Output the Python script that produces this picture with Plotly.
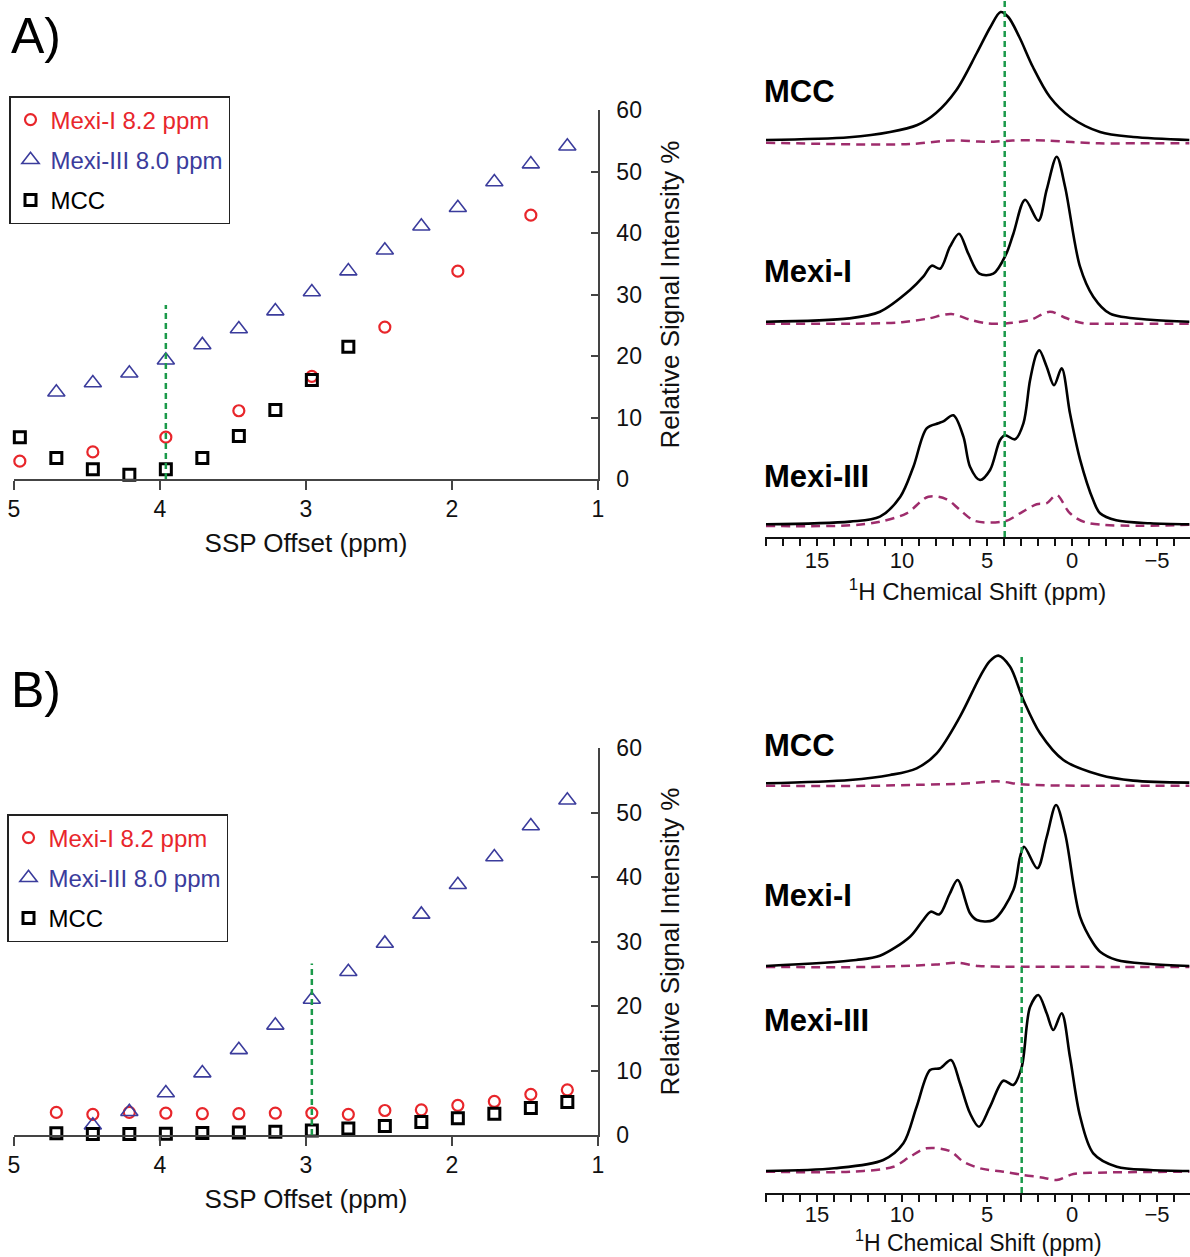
import plotly.graph_objects as go

W, H = 1190, 1257
FONT = "Liberation Sans, Arial, Helvetica, sans-serif"
RED = "#e8262b"
BLUE = "#3b3c9c"
BLACK = "#000000"
GREEN = "#1b9a4a"
PURPLE = "#9e2c6c"

# ---------------- data: SSP offset scans ----------------
A_mexi1_x = [4.96, 4.46, 3.96, 3.46, 2.96, 2.46, 1.96, 1.46]
A_mexi1_y = [2.9, 4.4, 6.8, 11.1, 16.7, 24.7, 33.8, 42.9]
A_mexi3_x = [4.71, 4.46, 4.21, 3.96, 3.71, 3.46, 3.21, 2.96, 2.71, 2.46, 2.21, 1.96, 1.71, 1.46, 1.21]
A_mexi3_y = [14.1, 15.6, 17.2, 19.3, 21.8, 24.4, 27.3, 30.4, 33.8, 37.2, 41.1, 44.1, 48.3, 51.2, 54.1]
A_mcc_x = [4.96, 4.71, 4.46, 4.21, 3.96, 3.71, 3.46, 3.21, 2.96, 2.71]
A_mcc_y = [6.8, 3.4, 1.6, 0.7, 1.6, 3.4, 7.0, 11.2, 16.1, 21.5]
A_ssp = 3.96
A_ssp_top = 28.3

B_mexi1_x = [4.71, 4.46, 4.21, 3.96, 3.71, 3.46, 3.21, 2.96, 2.71, 2.46, 2.21, 1.96, 1.71, 1.46, 1.21]
B_mexi1_y = [3.5, 3.2, 3.5, 3.4, 3.3, 3.3, 3.4, 3.4, 3.2, 3.8, 3.9, 4.6, 5.2, 6.3, 7.0]
B_mexi3_x = [4.46, 4.21, 3.96, 3.71, 3.46, 3.21, 2.96, 2.71, 2.46, 2.21, 1.96, 1.71, 1.46, 1.21]
B_mexi3_y = [1.5, 3.6, 6.5, 9.6, 13.2, 17.0, 21.0, 25.3, 29.7, 34.2, 38.8, 43.1, 47.9, 51.9]
B_mcc_x = [4.71, 4.46, 4.21, 3.96, 3.71, 3.46, 3.21, 2.96, 2.71, 2.46, 2.21, 1.96, 1.71, 1.46, 1.21]
B_mcc_y = [0.26, 0.15, 0.15, 0.2, 0.3, 0.4, 0.5, 0.7, 1.0, 1.4, 2.0, 2.6, 3.3, 4.2, 5.1]
B_ssp = 2.96
B_ssp_top = 26.6

# ---------------- data: 1H spectra (intensity, arbitrary units) ----------------
A_mcc_ppm = [18, 13.1, 10.7, 9.1, 8.0, 6.8, 5.6, 4.8, 4.2, 3.75, 3.1, 2.3, 1.3, 0.1, -1.65, -3.6, -6.9]
A_mcc_int = [0, 2.7, 8, 15, 27, 50, 87, 113, 128, 123, 103, 73, 43, 23, 8, 3, 0]
A_mcc_diff_ppm = [18, 12, 9.5, 7.1, 5.5, 4.6, 3.5, 1.5, 0, -1.6, -4, -6.9]
A_mcc_diff_int = [-2.7, -4.5, -4, -0.5, -1.5, -1.7, -0.5, -0.5, -2, -3.3, -3.3, -3.3]

A_mexi1_ppm = [18, 13.1, 11.3, 9.53, 8.75, 8.25, 7.76, 7.18, 6.65, 6.1, 5.45, 4.63, 3.9, 3.45, 2.76, 1.98, 1.49, 0.9, 0.41, -0.47, -1.25, -2.24, -4.6, -6.9]
A_mexi1_int = [0, 3.3, 10, 31.7, 45, 56, 53, 75, 88, 68, 48, 48, 66.7, 88, 122, 101, 132, 165, 135, 55, 25, 8, 2, 0]
A_mexi1_diff_ppm = [18, 13, 10, 8.5, 7.1, 6.0, 5.0, 3.9, 2.47, 1.3, 0.31, -0.6, -3, -6.9]
A_mexi1_diff_int = [-2, -2, -0.5, 3, 7.7, 2, -1.7, -1.7, 1.7, 10, 3.4, -1.3, -2, -2]

A_mexi3_ppm = [18, 13.06, 11.3, 10.1, 9.33, 8.55, 7.86, 7.57, 6.98, 6.39, 6.0, 5.41, 4.82, 4.24, 3.94, 3.35, 2.86, 2.47, 2.1, 1.92, 1.49, 1.06, 0.61, 0.12, -0.47, -1.25, -1.65, -2.6, -4.6, -6.9]
A_mexi3_int = [0, 2.7, 7.6, 27.6, 57.6, 96, 101, 103, 109, 87.6, 57.6, 44.3, 54.3, 84, 89, 85, 101, 144, 170, 174, 157.6, 139, 156, 111, 65, 24, 11, 4, 1, 0]
A_mexi3_diff_ppm = [18, 13, 11.3, 9.73, 8.45, 7.37, 6.59, 5.7, 3.9, 3.06, 2.08, 1.5, 0.9, 0.12, -0.86, -6.9]
A_mexi3_diff_int = [-1.7, -1, 2.6, 11, 27.6, 25, 14.3, 3.3, 3.3, 11, 20, 21, 29.3, 11, 1.6, -0.5]

B_mcc_ppm = [18, 13.06, 10.7, 9.14, 7.96, 6.59, 5.41, 4.85, 4.33, 3.65, 2.86, 1.88, 0.51, -1.65, -3.6, -6.9]
B_mcc_int = [0, 3.3, 8.3, 15, 30, 66.7, 106.7, 122, 127.7, 116.7, 83.3, 50, 23.3, 8.3, 2.7, 0.7]
B_mcc_diff_ppm = [18, 12, 9, 6, 4.4, 3, 1.5, -2, -6.9]
B_mcc_diff_int = [-2.5, -2.5, -1.5, 0, 2, -1, -2, -2.5, -2.5]

B_mexi1_ppm = [18, 12.7, 11.3, 9.53, 8.8, 8.31, 7.8, 7.2, 6.73, 6.0, 5.6, 4.63, 3.45, 3.06, 2.82, 2.04, 1.49, 0.94, 0.41, -0.47, -1.25, -1.65, -2.63, -4.6, -6.9]
B_mexi1_int = [0, 6, 10.3, 29.3, 45, 54.3, 51.7, 72, 86, 52.7, 46, 46, 76, 109, 119.3, 97.7, 129, 161, 132.7, 49.3, 22.7, 14.3, 6, 2, 0]
B_mexi1_diff_ppm = [18, 12, 10, 8, 6.8, 5.5, 4, 2.5, 1, 0, -3, -6.9]
B_mexi1_diff_int = [-1, -1, 0, 1.5, 3.3, 0, -0.7, -0.7, -0.7, -0.7, -1, -1]

B_mexi3_ppm = [18, 14.0, 11.1, 9.92, 9.14, 8.35, 7.76, 7.12, 6.59, 6.0, 5.47, 4.82, 4.04, 3.45, 2.96, 2.47, 1.98, 1.49, 1.1, 0.61, 0.12, -0.47, -1.25, -2.63, -4.6, -6.9]
B_mexi3_int = [0, 2.7, 11, 27.7, 64.3, 101, 102.7, 111, 87.7, 57.7, 44.3, 64.3, 90.3, 86, 104, 164, 176, 157.7, 141, 157.7, 114, 55, 17.7, 4.3, 1, 0]
B_mexi3_diff_ppm = [18, 13, 10.5, 9.53, 8.55, 7.18, 6.39, 5.41, 4.04, 2.86, 1.69, 0.9, -0.08, -1.5, -6.9]
B_mexi3_diff_int = [-0.7, -0.7, 4.3, 14.3, 22.7, 20, 9.3, 2.7, -0.7, -4, -6.7, -9, -3, -1.7, -0.7]

# ---------------- layout helpers ----------------
def fx(p):
    return p / W

def fy(p):
    return 1 - p / H

# stacking baselines (vertical offsets in display units, layout only)
A_base = {"mcc": 397, "mexi1": 215.3, "mexi3": 12.7}
A_height = 537
B_axis_px = 1193
B_base = {"mcc": 409.7, "mexi1": 227, "mexi3": 22}
B_height = 553

fig = go.Figure()

def scatter_traces(xa, ya, legend, m1x, m1y, m3x, m3y, mcx, mcy):
    fig.add_trace(go.Scatter(
        x=m1x, y=m1y, mode="markers", xaxis=xa, yaxis=ya, legend=legend,
        name='<span style="color:%s">Mexi-I 8.2 ppm</span>' % RED, legendgroup=legend + "a",
        marker=dict(symbol="circle-open", size=11, color=RED, line=dict(width=2.2, color=RED)),
        cliponaxis=False))
    fig.add_trace(go.Scatter(
        x=m3x, y=m3y, mode="markers", xaxis=xa, yaxis=ya, legend=legend,
        name='<span style="color:%s">Mexi-III 8.0 ppm</span>' % BLUE, legendgroup=legend + "b",
        marker=dict(symbol="triangle-up-open", size=15, color=BLUE, line=dict(width=1.6, color=BLUE)),
        cliponaxis=False))
    fig.add_trace(go.Scatter(
        x=mcx, y=mcy, mode="markers", xaxis=xa, yaxis=ya, legend=legend,
        name="MCC", legendgroup=legend + "c",
        marker=dict(symbol="square-open", size=11, color=BLACK, line=dict(width=3, color=BLACK)),
        cliponaxis=False))

scatter_traces("x", "y", "legend", A_mexi1_x, A_mexi1_y, A_mexi3_x, A_mexi3_y, A_mcc_x, A_mcc_y)
scatter_traces("x2", "y2", "legend2", B_mexi1_x, B_mexi1_y, B_mexi3_x, B_mexi3_y, B_mcc_x, B_mcc_y)

# SSP offset markers on scatter plots
fig.add_trace(go.Scatter(x=[A_ssp, A_ssp], y=[0, A_ssp_top], mode="lines", xaxis="x", yaxis="y",
                         line=dict(color=GREEN, width=2.5, dash="6px,4px"), showlegend=False, hoverinfo="skip"))
fig.add_trace(go.Scatter(x=[B_ssp, B_ssp], y=[0, B_ssp_top], mode="lines", xaxis="x2", yaxis="y2",
                         line=dict(color=GREEN, width=2.5, dash="6px,4px"), showlegend=False, hoverinfo="skip"))

# spectra
def spec(xa, ya, ppm, inten, base, dashed=False):
    fig.add_trace(go.Scatter(
        x=ppm, y=[v + base for v in inten], mode="lines", xaxis=xa, yaxis=ya,
        line=dict(color=PURPLE if dashed else BLACK, width=2.5 if dashed else 2.6,
                  dash="9px,6px" if dashed else "solid", shape="spline", smoothing=0.9),
        showlegend=False, hoverinfo="skip"))

spec("x3", "y3", A_mcc_diff_ppm, A_mcc_diff_int, A_base["mcc"], True)
spec("x3", "y3", A_mcc_ppm, A_mcc_int, A_base["mcc"])
spec("x3", "y3", A_mexi1_diff_ppm, A_mexi1_diff_int, A_base["mexi1"], True)
spec("x3", "y3", A_mexi1_ppm, A_mexi1_int, A_base["mexi1"])
spec("x3", "y3", A_mexi3_diff_ppm, A_mexi3_diff_int, A_base["mexi3"], True)
spec("x3", "y3", A_mexi3_ppm, A_mexi3_int, A_base["mexi3"])

spec("x4", "y4", B_mcc_diff_ppm, B_mcc_diff_int, B_base["mcc"], True)
spec("x4", "y4", B_mcc_ppm, B_mcc_int, B_base["mcc"])
spec("x4", "y4", B_mexi1_diff_ppm, B_mexi1_diff_int, B_base["mexi1"], True)
spec("x4", "y4", B_mexi1_ppm, B_mexi1_int, B_base["mexi1"])
spec("x4", "y4", B_mexi3_diff_ppm, B_mexi3_diff_int, B_base["mexi3"], True)
spec("x4", "y4", B_mexi3_ppm, B_mexi3_int, B_base["mexi3"])

fig.add_trace(go.Scatter(x=[A_ssp, A_ssp], y=[0, A_height], mode="lines", xaxis="x3", yaxis="y3",
                         line=dict(color=GREEN, width=2.5, dash="6px,4px"), showlegend=False, hoverinfo="skip"))
fig.add_trace(go.Scatter(x=[B_ssp, B_ssp], y=[0, 537], mode="lines", xaxis="x4", yaxis="y4",
                         line=dict(color=GREEN, width=2.5, dash="6px,4px"), showlegend=False, hoverinfo="skip"))

tickfont = dict(family=FONT, size=23, color="#111")
titlefont = dict(family=FONT, size=26, color="#111")
AXC = "#444"
SHIFT_TITLE = "<sup>1</sup>H Chemical Shift (ppm)"

def scat_x(domain, anchor):
    return dict(domain=domain, anchor=anchor, range=[5, 1], dtick=1, tick0=1, showgrid=False, zeroline=False,
                showline=True, linecolor=AXC, linewidth=1.5, ticks="outside", ticklen=9, tickwidth=1.5,
                tickcolor=AXC, tickfont=tickfont, fixedrange=True, automargin=False,
                title=dict(text="SSP Offset (ppm)", font=titlefont, standoff=12))

def scat_y(domain, anchor):
    return dict(domain=domain, range=[0, 60], dtick=10, side="right", anchor=anchor, showgrid=False,
                zeroline=False, showline=True, linecolor=AXC, linewidth=1.5, ticks="inside", ticklen=7,
                tickwidth=1.5, tickcolor=AXC, tickfont=tickfont, ticklabelstandoff=12, automargin=False,
                title=dict(text="Relative Signal Intensity %", font=titlefont, standoff=20))

def spec_x(domain, anchor, title, standoff):
    d = dict(domain=domain, anchor=anchor, range=[18.06, -6.94], tickvals=[15, 10, 5, 0, -5],
             showgrid=False, zeroline=False, showline=True, linecolor="#111", linewidth=2,
             ticks="outside", ticklen=7, tickwidth=1.5, tickcolor="#111",
             tickfont=dict(family=FONT, size=22, color="#111"), ticklabelstandoff=standoff,
             automargin=False,
             minor=dict(dtick=1, tick0=0, ticks="outside", ticklen=7, tickwidth=1.5, tickcolor="#111", showgrid=False))
    if title:
        d["title"] = dict(text=SHIFT_TITLE, font=dict(family=FONT, size=24, color="#111"), standoff=11)
    return d

fig.update_layout(
    width=W, height=H, autosize=False,
    margin=dict(l=0, r=0, t=0, b=0, autoexpand=False),
    paper_bgcolor="white", plot_bgcolor="white",
    font=dict(family=FONT, color="#111"),
    xaxis=scat_x([fx(14), fx(598)], "y"),
    yaxis=scat_y([fy(479), fy(110)], "x"),
    xaxis2=scat_x([fx(14), fx(598)], "y2"),
    yaxis2=scat_y([fy(1135), fy(748)], "x2"),
    xaxis3=spec_x([fx(765), fx(1190)], "y3", True, -4),
    yaxis3=dict(domain=[fy(A_height), 1.0], range=[0, A_height], visible=False, anchor="x3", automargin=False),
    xaxis4=spec_x([fx(765), fx(1190)], "y4", False, -6),
    yaxis4=dict(domain=[fy(B_axis_px), fy(B_axis_px - B_height)], range=[0, B_height], visible=False,
                anchor="x4", automargin=False),
    legend=dict(x=fx(9), y=fy(96), xanchor="left", yanchor="top", bgcolor="white",
                bordercolor="#222", borderwidth=1.5, font=dict(family=FONT, size=24, color=BLACK),
                itemwidth=30, tracegroupgap=6, traceorder="grouped"),
    legend2=dict(x=fx(7), y=fy(814), xanchor="left", yanchor="top", bgcolor="white",
                 bordercolor="#222", borderwidth=1.5, font=dict(family=FONT, size=24, color=BLACK),
                 itemwidth=30, tracegroupgap=6, traceorder="grouped"),
    showlegend=True,
)

ann = []
def label(text, x, y, size, bold=False, xanchor="left"):
    ann.append(dict(text="<b>%s</b>" % text if bold else text, x=fx(x), y=fy(y), xref="paper", yref="paper",
                    xanchor=xanchor, yanchor="middle", showarrow=False,
                    font=dict(family=FONT, size=size, color=BLACK)))

label("A)", 9, 36, 50)
label("B)", 9, 690, 50)
label("MCC", 762, 91, 31, True)
label("Mexi-I", 762, 271, 31, True)
label("Mexi-III", 762, 476, 31, True)
label("MCC", 762, 745, 31, True)
label("Mexi-I", 762, 895, 31, True)
label("Mexi-III", 762, 1020, 31, True)
# x-axis title of the lower spectra panel (placed as text so it stays inside the page)
ann.append(dict(text=SHIFT_TITLE, x=fx(978), y=0, xref="paper", yref="paper", xanchor="center",
                yanchor="bottom", yshift=0, borderpad=0, showarrow=False,
                font=dict(family=FONT, size=23, color="#111")))
fig.update_layout(annotations=ann)

fig.write_html("out.html")
